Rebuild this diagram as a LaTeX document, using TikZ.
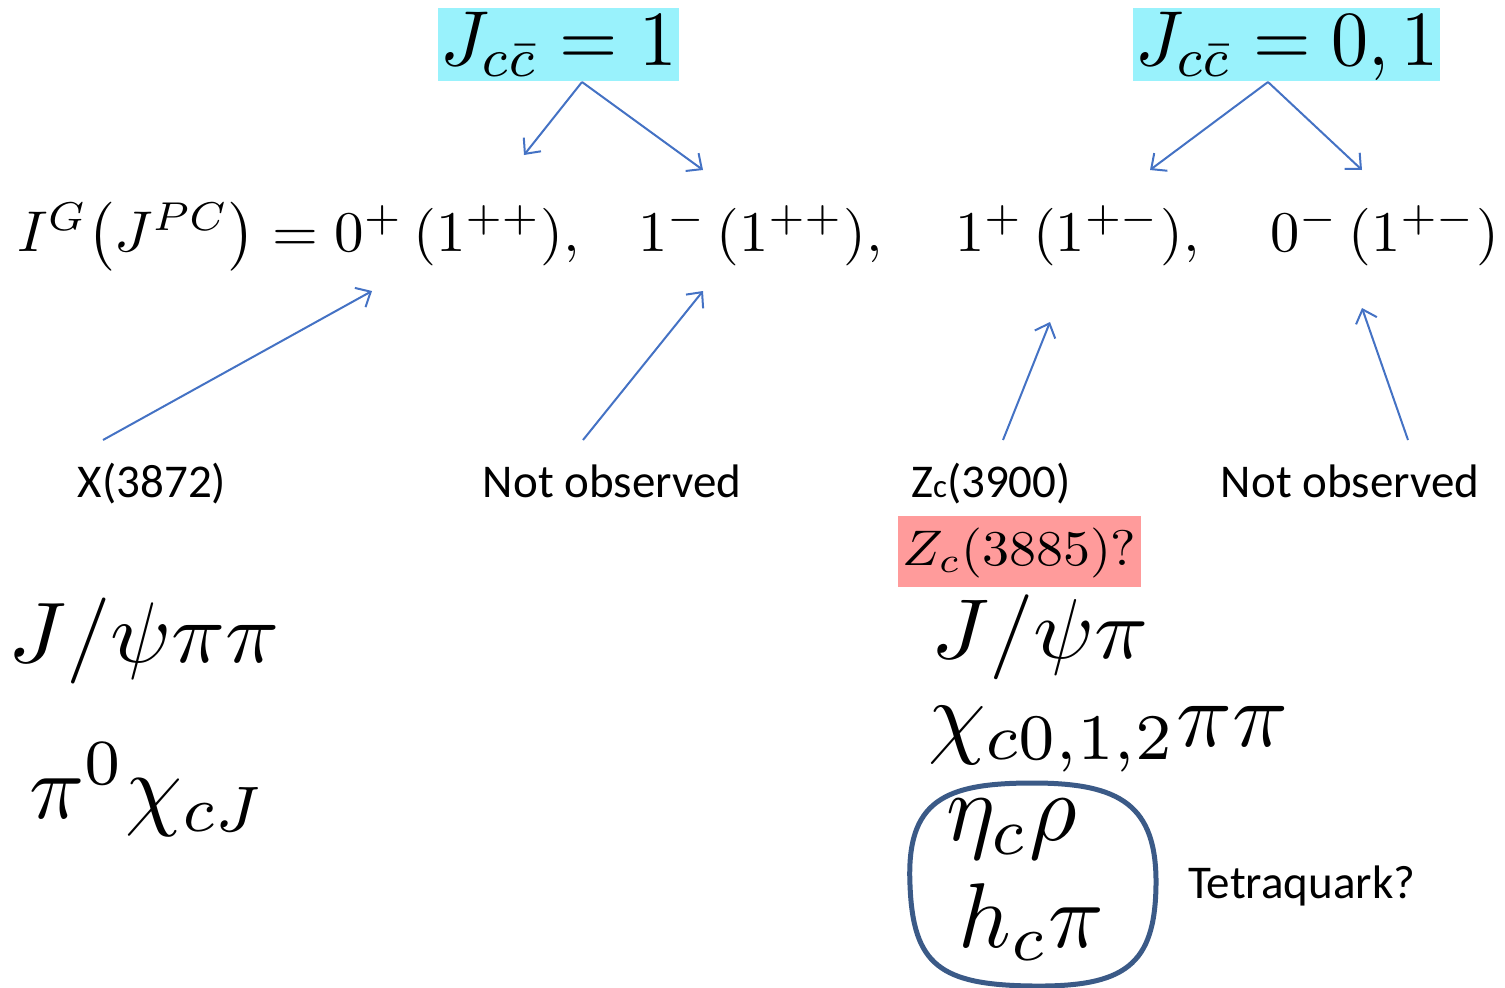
\documentclass[tikz,border=0pt]{standalone}
\usepackage{graphicx}
\usepackage{fontspec}
\setsansfont{Carlito}
\usetikzlibrary{arrows.meta}
\definecolor{cyanbg}{RGB}{153,242,252}
\definecolor{pinkbg}{RGB}{255,155,155}
\definecolor{arrblue}{RGB}{68,114,196}
\definecolor{boxblue}{RGB}{59,90,135}
\newcommand{\mth}[3]{\scalebox{#1}[#2]{$#3$}}
\tikzset{
  conn/.style={draw=arrblue, line width=2pt, -{Straight Barb[length=12pt,width=22pt,line width=2pt]}},
  lab/.style={font=\sffamily\fontsize{47}{52}\selectfont, inner sep=0pt, anchor=base},
  hdr/.style={fill=cyanbg, inner xsep=2pt, inner ysep=0pt, text height=57pt, text depth=16pt, anchor=base west},
  mathtxt/.style={inner sep=0pt, anchor=base west, font=\fontsize{10}{12}\selectfont},
}
\begin{document}
\begin{tikzpicture}[x=1pt,y=-1pt]
\useasboundingbox (0,0) rectangle (1505,988);
% headers
\node[hdr, font=\fontsize{10}{12}\selectfont] (h1) at (438,65) {\mth{7.5}{7.8}{J_{c\bar c} = 1}};
\node[hdr, font=\fontsize{10}{12}\selectfont] (h2) at (1133,65) {\mth{7.4}{7.8}{J_{c\bar c} = 0,1}};
% main line
\node[mathtxt] (m1) at (17,251) {\mth{5.9}{5.75}{I^G{\left(J^{PC}\right)} = 0^+\,{\left(1^{++}\right)},}};
\node[mathtxt] (m2) at (638,251) {\mth{5.85}{5.75}{1^-\,{\left(1^{++}\right)},}};
\node[mathtxt] (m3) at (955,251) {\mth{5.85}{5.75}{1^+\,{\left(1^{+-}\right)},}};
\node[mathtxt] (m4) at (1270,251) {\mth{5.85}{5.75}{0^-\,{\left(1^{+-}\right)}}};
% arrows from headers
\coordinate (h1s) at (582,82);
\coordinate (h2s) at (1268,82);
\coordinate (t1) at (524,155);
\coordinate (t2) at (703,170);
\coordinate (t3) at (1150,170);
\coordinate (t4) at (1362,170);
\draw[conn] (h1s) -- (t1);
\draw[conn] (h1s) -- (t2);
\draw[conn] (h2s) -- (t3);
\draw[conn] (h2s) -- (t4);
% labels
\node[lab] (x3872) at (152,497) {X(3872)};
\node[lab] (no1) at (612,497) {Not observed};
\node[lab] (zc) at (991,497) {Z{\fontsize{33}{36}\selectfont c}(3900)};
\node[lab] (no2) at (1350,497) {Not observed};
\coordinate (s1) at (103,440);
\coordinate (s2) at (583,440);
\coordinate (s3) at (1003,440);
\coordinate (s4) at (1408,440);
\coordinate (e1) at (372,291);
\coordinate (e2) at (703,291);
\coordinate (e3) at (1050,322);
\coordinate (e4) at (1362,308);
\draw[conn] (s1) -- (e1);
\draw[conn] (s2) -- (e2);
\draw[conn] (s3) -- (e3);
\draw[conn] (s4) -- (e4);
% pink box
\node[fill=pinkbg, inner xsep=4pt, inner ysep=0pt, text height=49pt, text depth=22pt, anchor=base west, font=\fontsize{10}{12}\selectfont] (zc3885) at (898,565) {\mth{5.4}{5.0}{Z_c(3885)?}};
% left column
\node[mathtxt] (l1) at (8,662) {\mth{8.9}{8.6}{J/\psi\pi\pi}};
\node[mathtxt] (l2) at (29,818) {\mth{9.1}{9.2}{\pi^0\chi_{cJ}}};
% right column
\node[mathtxt] (r1) at (931,658) {\mth{8.9}{8.5}{J/\psi\pi}};
\node[mathtxt] (r2) at (928,746) {\mth{9.2}{9.3}{\chi_{c0,1,2}\pi\pi}};
\node[mathtxt] (r3) at (946,840) {\mth{9.2}{9.6}{\eta_c\rho}};
\node[mathtxt] (r4) at (958,947) {\mth{9.17}{9.2}{h_c\pi}};
\draw[boxblue, line width=5pt] (910,885) .. controls (906,800) and (945,783) .. (1033,783)
  .. controls (1120,783) and (1157,805) .. (1156,885)
  .. controls (1155,965) and (1125,987) .. (1033,986)
  .. controls (940,985) and (913,965) .. (910,885) -- cycle;
\node[lab, anchor=base west] (tq) at (1188,898) {Tetraquark?};
\end{tikzpicture}
\end{document}
